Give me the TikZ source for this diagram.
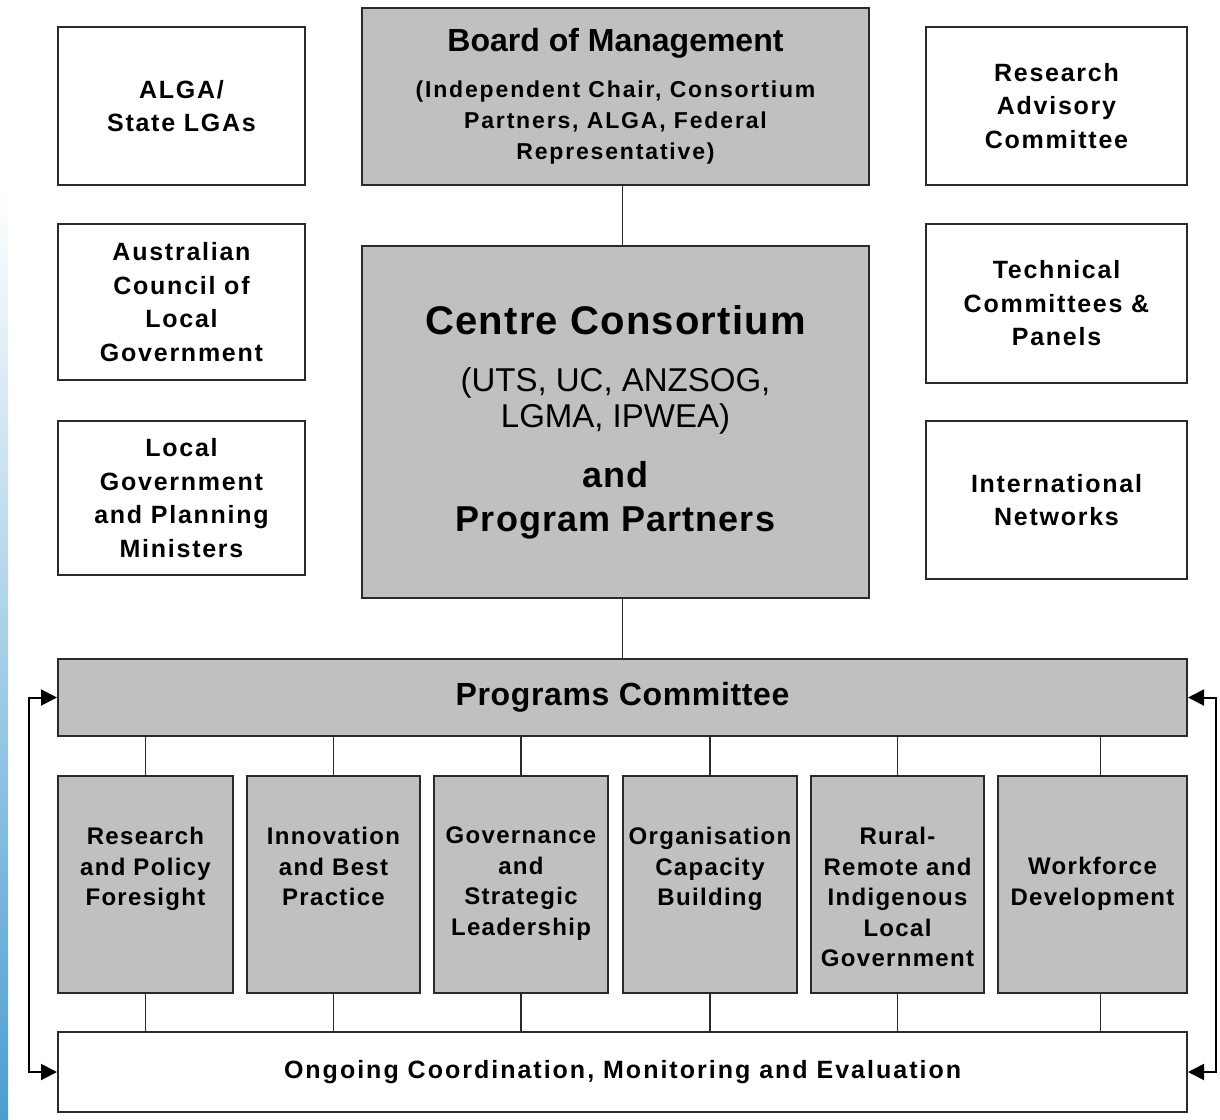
\documentclass[tikz,border=0pt]{standalone}
\usepackage{fontspec}
\setmainfont{Liberation Sans}
\usetikzlibrary{arrows.meta,calc}
\definecolor{boxgray}{HTML}{C0C0C0}
\definecolor{edgecol}{HTML}{2A2A2A}
\definecolor{stripblue}{HTML}{4C9ED0}

\begin{document}
\begin{tikzpicture}[x=1pt,y=-1pt,
  box/.style={draw=edgecol,line width=2pt,inner sep=0pt,align=center,text=black},
  whitebox/.style={box,fill=white},
  graybox/.style={box,fill=boxgray},
  sidefont/.style={font={\fontsize{25}{33.5}\selectfont\bfseries\addfontfeature{LetterSpace=7}}},
  progfont/.style={font={\fontsize{24}{30.5}\selectfont\bfseries\addfontfeature{LetterSpace=5.5}}},
  sidebox/.style={whitebox,sidefont,minimum width=247pt},
  rightbox/.style={whitebox,sidefont,minimum width=261pt},
  progbox/.style={graybox,minimum height=217pt},
  progtext/.style={progfont,anchor=north,inner sep=0pt,align=center},
  link/.style={draw=edgecol,line width=1.5pt},
  loop/.style={draw=black,line width=2pt,{Triangle[length=16pt,width=16pt]}-{Triangle[length=16pt,width=16pt]}}
]
\useasboundingbox (0,0) rectangle (1220,1119);
\fill[white] (0,0) rectangle (1220,1119);
% soft blue strip along the left edge
\shade[top color=white,bottom color=stripblue] (0,190) rectangle (8,1119);

% left column
\node[sidebox,minimum height=158pt] (alga) at (181.5,106) {ALGA/\\State LGAs};
\node[sidebox,minimum height=156pt] (acelg) at (181.5,302) {Australian\\Council of\\Local\\Government};
\node[sidebox,minimum height=154pt] (lgpm) at (181.5,498) {Local\\Government\\and Planning\\Ministers};

% right column
\node[rightbox,minimum height=158pt] (rac) at (1056.5,106) {Research\\Advisory\\Committee};
\node[rightbox,minimum height=159pt] (tcp) at (1056.5,303.5) {Technical\\Committees \&\\Panels};
\node[rightbox,minimum height=158pt] (intl) at (1056.5,500) {International\\Networks};

% centre column
\node[graybox,minimum width=507pt,minimum height=177pt,
      font={\fontsize{23}{31}\selectfont\bfseries\addfontfeature{LetterSpace=8}}] (board) at (615.5,96.5)
  {{\fontsize{32}{36}\selectfont\addfontfeature{LetterSpace=0}Board of Management}\\[15pt]
   (Independent Chair, Consortium\\Partners, ALGA, Federal\\Representative)};

\node[graybox,minimum width=507pt,minimum height=352pt,
      font={\fontsize{33}{36}\selectfont}] (centre) at (615.5,422)
  {{\fontsize{40}{44}\selectfont\bfseries\addfontfeature{LetterSpace=3}Centre Consortium}\\[21pt]
   (UTS, UC, ANZSOG,\\LGMA, IPWEA)\\[24pt]
   {\fontsize{36}{40}\selectfont\bfseries\addfontfeature{LetterSpace=3}and}\\[8pt]
   {\fontsize{36}{40}\selectfont\bfseries\addfontfeature{LetterSpace=3}Program Partners}};

% programs committee and evaluation bars
\node[graybox,minimum width=1129pt,minimum height=77pt,
      font={\fontsize{32}{36}\selectfont\bfseries\addfontfeature{LetterSpace=2}}] (prog) at (622.5,697.5) {Programs Committee};
\node[whitebox,minimum width=1129pt,minimum height=80pt,
      font={\fontsize{25}{30}\selectfont\bfseries\addfontfeature{LetterSpace=8}}] (ongoing) at (622.5,1072) {Ongoing Coordination, Monitoring and Evaluation};

% program boxes
\node[progbox,minimum width=175pt] (p1) at (145.5,884.5) {};
\node[progbox,minimum width=173pt] (p2) at (333.5,884.5) {};
\node[progbox,minimum width=174pt] (p3) at (521,884.5) {};
\node[progbox,minimum width=174pt] (p4) at (710,884.5) {};
\node[progbox,minimum width=173pt] (p5) at (897.5,884.5) {};
\node[progbox,minimum width=189pt] (p6) at (1092.5,884.5) {};

\node[progtext] (p1t) at (145.5,827) {Research\\and Policy\\Foresight};
\node[progtext] (p2t) at (333.5,827) {Innovation\\and Best\\Practice};
\node[progtext] (p3t) at (521,827) {Governance\\and\\Strategic\\Leadership};
\node[progtext] (p4t) at (710,827) {Organisation\\Capacity\\Building};
\node[progtext] (p5t) at (897.5,827) {Rural-\\Remote and\\Indigenous\\Local\\Government};
\node[progtext] (p6t) at (1092.5,857) {Workforce\\Development};

% vertical links
\coordinate (spine) at (prog.north);
\path[link] (spine |- board.south) -- (spine |- centre.north);
\path[link] (spine |- centre.south) -- (prog.north);
\foreach \p in {p1,p2,p3,p4,p5} {
  \path[link] (\p.north |- prog.south) -- (\p.north);
  \path[link] (\p.south) -- (\p.south |- ongoing.north);
}
\coordinate (p6x) at ($(p6.north)+(8,0)$);
\path[link] (p6x |- prog.south) -- (p6x |- p6.north);
\path[link] (p6x |- p6.south) -- (p6x |- ongoing.north);

% feedback loops
\draw[loop] (ongoing.west) -- ++(-28,0) |- (prog.west);
\draw[loop] (ongoing.east) -- ++(28,0) |- (prog.east);
\end{tikzpicture}
\end{document}
